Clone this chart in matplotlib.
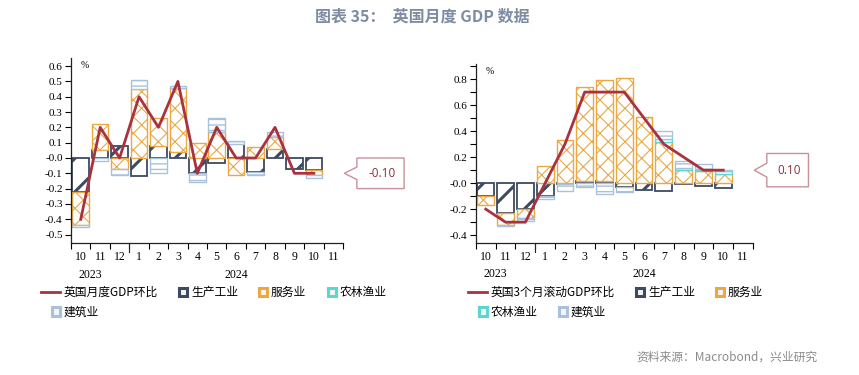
import numpy as np
import matplotlib.pyplot as plt
import matplotlib.patches as mpatches
import matplotlib.transforms as mtransforms
from matplotlib.lines import Line2D
from matplotlib.legend_handler import HandlerPatch

plt.rcParams['font.family'] = ['Noto Sans CJK SC', 'DejaVu Sans']

# 月份标签 (2023-10 到 2024-11)
months = ['10', '11', '12', '1', '2', '3', '4', '5', '6', '7', '8', '9', '10', '11']

# 左图: 英国月度GDP环比及分项拉动 (%)
line_m = [-0.4, 0.2, 0.0, 0.4, 0.2, 0.5, -0.1, 0.2, 0.0, 0.0, 0.2, -0.1, -0.1]
prod_m = [-0.22, 0.05, 0.08, -0.12, 0.08, 0.04, -0.10, -0.03, 0.09, -0.09, 0.06, -0.07, -0.08]
serv_m = [-0.22, 0.17, -0.07, 0.45, 0.18, 0.42, 0.10, 0.17, -0.11, 0.07, 0.08, 0.00, -0.03]
agri_m = [0.00, 0.00, 0.00, 0.00, 0.00, 0.00, 0.00, 0.00, 0.00, 0.00, 0.00, 0.00, 0.00]
cons_m = [-0.01, -0.02, -0.04, 0.06, -0.10, 0.01, -0.06, 0.09, 0.02, -0.02, 0.03, 0.00, -0.02]

# 右图: 英国3个月滚动GDP环比及分项拉动 (%)
line_3m = [-0.2, -0.3, -0.3, 0.0, 0.3, 0.7, 0.7, 0.7, 0.5, 0.3, 0.2, 0.1, 0.1]
prod_3m = [-0.10, -0.23, -0.20, -0.10, -0.01, 0.02, 0.02, -0.03, -0.05, -0.06, -0.005, -0.02, -0.04]
serv_3m = [-0.07, -0.09, -0.07, 0.13, 0.33, 0.72, 0.77, 0.81, 0.51, 0.32, 0.10, 0.09, 0.07]
agri_3m = [0.00, 0.00, 0.00, 0.00, 0.00, 0.00, 0.00, 0.00, 0.00, 0.02, 0.02, 0.02, 0.02]
cons_3m = [0.00, -0.01, -0.02, -0.02, -0.05, -0.03, -0.08, -0.04, 0.00, 0.06, 0.05, 0.04, 0.01]

c_line = '#a8323f'
c_prod = '#3e4a61'
c_serv = '#eaa845'
c_agri = '#5cd6cf'
c_cons = '#a9c2da'
tick_font = 'Liberation Serif'

styles = [
    ('生产工业', c_prod, '/', 2.2, 1.3),
    ('服务业', c_serv, 'xx', 0.8, 1.0),
    ('农林渔业', c_agri, '--', 1.0, 1.0),
    ('建筑业', c_cons, '---', 1.0, 1.0),
]


def stacked(ax, series):
    x = np.arange(len(series[0]))
    pos = np.zeros(len(x))
    neg = np.zeros(len(x))
    for vals, (name, col, hatch, hlw, lw) in zip(series, styles):
        v = np.array(vals)
        bottom = np.where(v >= 0, pos, neg)
        keep = v != 0  # zero-height bars would leave a coloured line on the axis
        bars = ax.bar(x[keep], v[keep], 0.85, bottom=bottom[keep], facecolor='white',
                      edgecolor=col, hatch=hatch, linewidth=lw, zorder=2)
        for b in bars:
            if hasattr(b, 'set_hatch_linewidth'):
                b.set_hatch_linewidth(hlw)
        pos = np.where(v >= 0, pos + v, pos)
        neg = np.where(v < 0, neg + v, neg)


def callout(fig, ax, value, text, half_h, w, ptr):
    trans = (mtransforms.Affine2D().scale(1 / 72) + fig.dpi_scale_trans +
             mtransforms.ScaledTranslation(1.0, value,
                                           mtransforms.blended_transform_factory(ax.transAxes, ax.transData)))
    gap = 10
    verts = [(1, 0), (gap, ptr), (gap, half_h), (gap + w, half_h),
             (gap + w, -half_h), (gap, -half_h), (gap, -ptr)]
    poly = mpatches.Polygon(verts, closed=True, transform=trans, facecolor='white',
                            edgecolor='#c9909a', linewidth=1.0, clip_on=False)
    fig.add_artist(poly)
    fig.text(gap + w / 2 + 1, 0, text, transform=trans, ha='center', va='center',
             fontsize=8.5, color='#8c2f3c', family=['Open Sans', 'DejaVu Sans'])


def setup(ax, ylim, major, labels_every):
    n = len(months)
    ax.set_xlim(-0.5, n - 0.5)
    ax.set_ylim(*ylim)
    for s in ['top', 'right']:
        ax.spines[s].set_visible(False)
    ax.spines['left'].set_color('#222222')
    ax.spines['bottom'].set_color('#222222')
    ax.spines['left'].set_linewidth(0.9)
    ax.spines['bottom'].set_linewidth(0.9)
    yt = np.round(np.arange(-0.5, 1.0, major), 2)
    yt = yt[(yt >= ylim[0]) & (yt <= ylim[1])]
    ax.set_yticks(yt)
    ax.set_yticklabels([f'{v:.1f}' if round(v / major) % labels_every == 0 else '' for v in yt],
                       family=tick_font, fontsize=8)
    ax.tick_params(axis='y', length=4, width=0.8, pad=2)
    ax.set_xticks(np.arange(-0.5, n, 1.0))
    ax.set_xticklabels([])
    ax.tick_params(axis='x', which='major', length=4, width=0.8)
    ax.set_xticks(np.arange(n), minor=True)
    ax.set_xticklabels(months, minor=True, family=tick_font, fontsize=8.5)
    ax.tick_params(axis='x', which='minor', length=0, pad=6)
    tr = mtransforms.blended_transform_factory(ax.transData, ax.transAxes)
    ax.plot([2.5, 2.5], [0, -0.05], transform=tr, color='#222222', lw=0.8, clip_on=False)
    ax.text(0.5, -0.14, '2023', transform=tr, ha='center', va='top', family=tick_font, fontsize=8.5)
    ax.text(8, -0.14, '2024', transform=tr, ha='center', va='top', family=tick_font, fontsize=8.5)
    ax.text(0.035, 0.985, '%', transform=ax.transAxes, ha='left', va='top', family=tick_font, fontsize=7)


def square(legend, orig_handle, xdescent, ydescent, width, height, fontsize):
    s = height * 1.0
    return mpatches.Rectangle((width - s - xdescent, -ydescent), s, s)


fig = plt.figure(figsize=(8.59, 3.75), dpi=100)
ax1 = fig.add_axes([0.0827, 0.352, 0.3166, 0.493])
ax2 = fig.add_axes([0.554, 0.352, 0.3225, 0.477])

stacked(ax1, [prod_m, serv_m, agri_m, cons_m])
ax1.plot(np.arange(len(line_m)), line_m, color=c_line, lw=2, zorder=3)
setup(ax1, (-0.555, 0.652), 0.1, 1)
callout(fig, ax1, line_m[-1], f'{line_m[-1]:.2f}', 11, 34, 4.5)

stacked(ax2, [prod_3m, serv_3m, agri_3m, cons_3m])
ax2.plot(np.arange(len(line_3m)), line_3m, color=c_line, lw=2, zorder=3)
setup(ax2, (-0.46, 0.915), 0.1, 2)
callout(fig, ax2, line_3m[-1], f'{line_3m[-1]:.2f}', 12, 30, 5)


def legend_handles(line_name):
    hs = [Line2D([], [], color=c_line, lw=2)]
    for name, col, hatch, hlw, lw in styles:
        hs.append(mpatches.Patch(facecolor='#f4f4f4', edgecolor=col, linewidth=2.2))
    return hs, [line_name] + [s[0] for s in styles]


# one legend per row, like the wrapped legend of the original
for name, x0, rows in [('英国月度GDP环比', 0.048, [[0, 1, 2, 3], [4]]),
                       ('英国3个月滚动GDP环比', 0.545, [[0, 1, 2], [3, 4]])]:
    hs, ls = legend_handles(name)
    for r, idx in enumerate(rows):
        fig.legend([hs[i] for i in idx], [ls[i] for i in idx], loc='upper left',
                   bbox_to_anchor=(x0, 0.237 - r * 0.052), ncol=len(idx), frameon=False,
                   fontsize=8.5, handlelength=1.6, handletextpad=0.3, columnspacing=0.9,
                   borderaxespad=0, borderpad=0,
                   handler_map={mpatches.Patch: HandlerPatch(patch_func=square)})

fig.text(0.492, 0.955, '图表 35：  英国月度 GDP 数据', ha='center', va='center',
         fontsize=11.5, fontweight='bold', color='#7d8ca3')
fig.text(0.952, 0.048, '资料来源：Macrobond，兴业研究', ha='right', va='center',
         fontsize=8.5, color='#8a8a8a')

fig.savefig('out.png', dpi=100)
